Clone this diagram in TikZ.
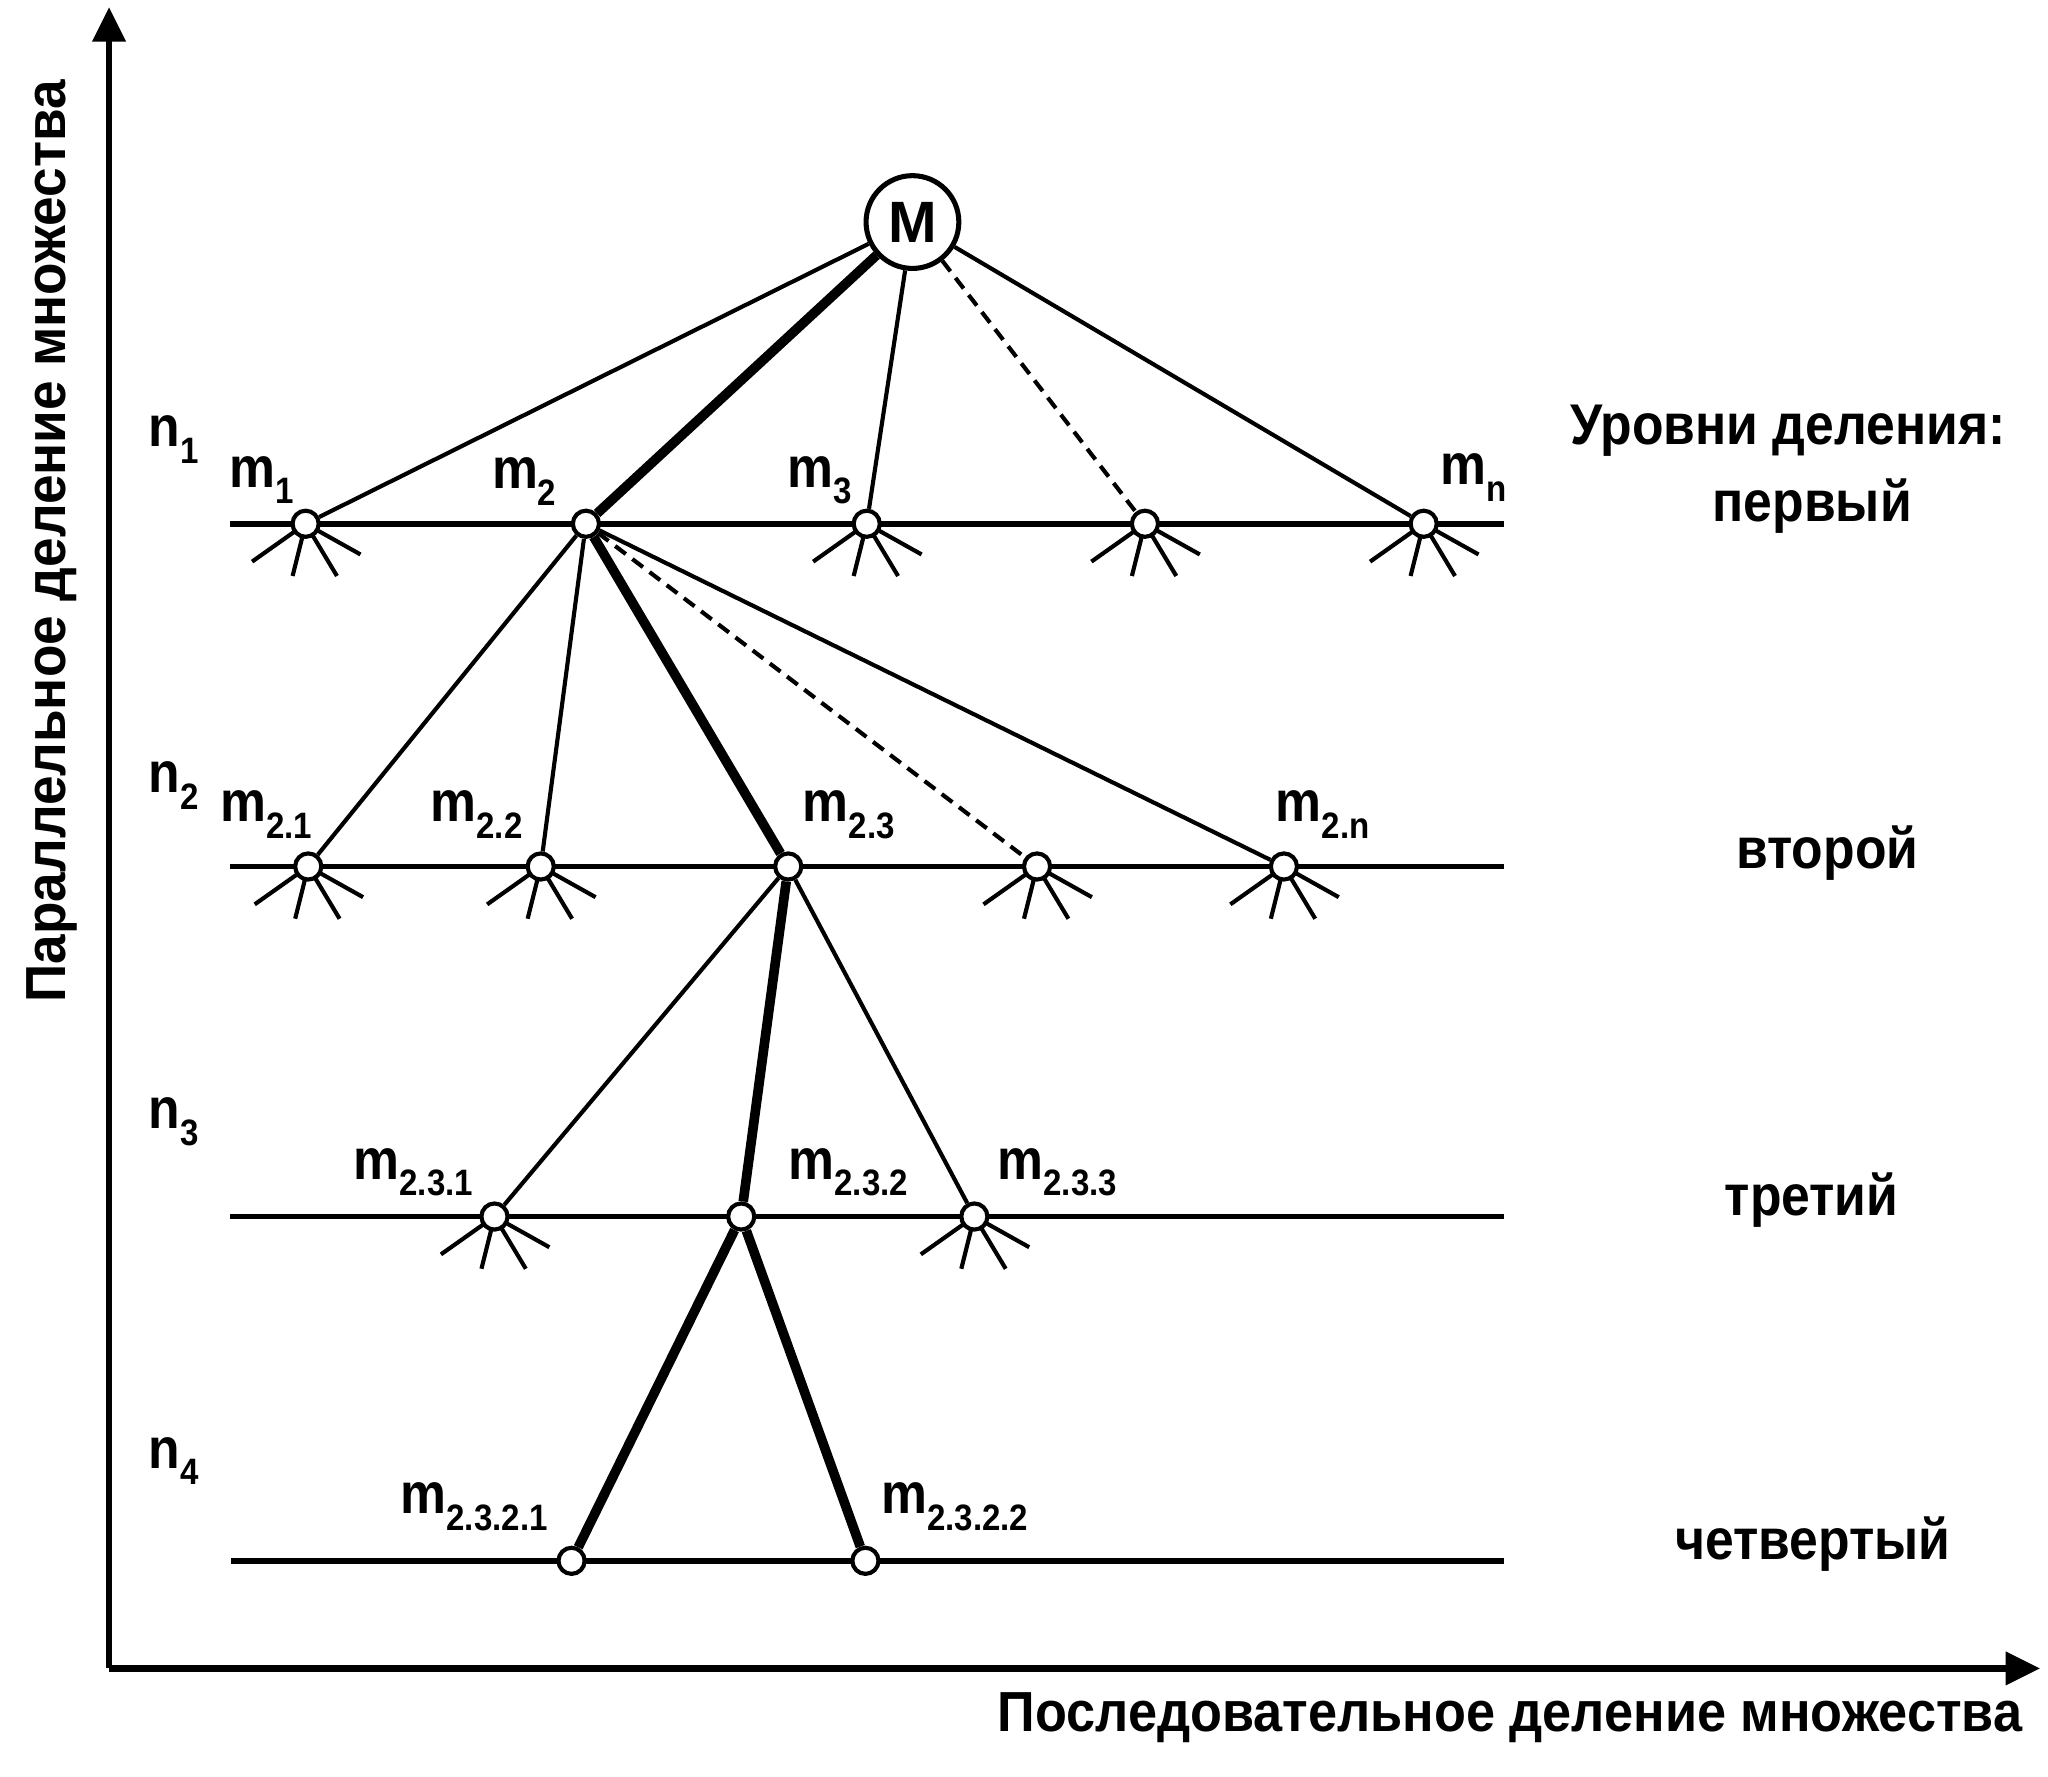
\documentclass[tikz,border=0pt]{standalone}
\usepackage{graphicx}
\usepackage{fontspec}
\setmainfont{Liberation Sans}
\usetikzlibrary{arrows.meta,backgrounds}
\newcommand\mysub[1]{\raisebox{-3.6pt}{\fontsize{8}{9}\selectfont\bfseries\scalebox{0.9}[1]{#1}}}
\newcommand\mylab[2]{\scalebox{0.9}[1]{#1}\mysub{#2}}
\tikzset{
  thinline/.style={line width=0.9pt},
  thickline/.style={line width=2.1pt},
  dashline/.style={line width=0.9pt, dash pattern=on 2.9pt off 1.8pt},
  levelline/.style={line width=1.25pt},
  axisline/.style={line width=1.35pt, -{Triangle[length=7.5pt,width=7pt]}},
  raystyle/.style={line width=0.9pt},
  dotnode/.style={circle, draw, line width=0.9pt, fill=white, minimum size=0.2cm, inner sep=0pt},
  bigc/.style={circle, draw, line width=1.1pt, fill=white, minimum size=0.71cm, inner sep=0pt, font=\fontsize{12.7}{14}\selectfont\bfseries},
  lab/.style={anchor=base west, inner sep=0pt, font=\fontsize{12.5}{14}\selectfont\bfseries},
  lvl/.style={anchor=base, inner sep=0pt, font=\fontsize{12.5}{14}\selectfont\bfseries},
  axlab/.style={anchor=base, inner sep=0pt, font=\fontsize{12.3}{14}\selectfont\bfseries},
}
\newcommand\rays[1]{\foreach \dx/\dy in {-41/29,-10/40,24/40,42/23.5}{\draw[raystyle] (#1.center) -- ++(\dx,\dy);}}
\begin{document}
\begin{tikzpicture}[x=0.01cm,y=-0.01cm]
\useasboundingbox (0,0) rectangle (1568,1360);
% axes
\coordinate (O) at (83.5,1277.4);
\coordinate (Ytip) at (83.5,5.4);
\coordinate (Xtip) at (1562,1277.4);
\draw[axisline] (O) -- (Ytip);
\draw[axisline] (O) -- (Xtip);
% nodes
\node[bigc] (M) at (698.6,170) {M};
\node[dotnode] (a1) at (234,401) {};
\node[dotnode] (a2) at (448.6,401) {};
\node[dotnode] (a3) at (663.6,401) {};
\node[dotnode] (a4) at (876.6,401) {};
\node[dotnode] (a5) at (1090,401) {};
\node[dotnode] (b1) at (236,663.4) {};
\node[dotnode] (b2) at (414,663.4) {};
\node[dotnode] (b3) at (603.5,663.4) {};
\node[dotnode] (b4) at (794,663.4) {};
\node[dotnode] (b5) at (983,663.4) {};
\node[dotnode] (c1) at (378.6,931.4) {};
\node[dotnode] (c2) at (567.5,931.4) {};
\node[dotnode] (c3) at (746,931.4) {};
\node[dotnode] (d1) at (437.6,1195) {};
\node[dotnode] (d2) at (662.6,1195) {};
% level line ends
\coordinate (L1s) at (176,401);   \coordinate (L1e) at (1151.6,401);
\coordinate (L2s) at (176,663.4); \coordinate (L2e) at (1151.6,663.4);
\coordinate (L3s) at (176,931.4); \coordinate (L3e) at (1151.6,931.4);
\coordinate (L4s) at (177,1195);  \coordinate (L4e) at (1151.6,1195);
\begin{pgfonlayer}{background}
\draw[levelline] (L1s) -- (L1e);
\draw[levelline] (L2s) -- (L2e);
\draw[levelline] (L3s) -- (L3e);
\draw[levelline] (L4s) -- (L4e);
\rays{a1}\rays{a3}\rays{a4}\rays{a5}
\rays{b1}\rays{b2}\rays{b4}\rays{b5}
\rays{c1}\rays{c3}
\end{pgfonlayer}
% edges
\draw[thinline] (M) -- (a1);
\draw[thickline] (M) -- (a2);
\draw[thinline] (M) -- (a3);
\draw[dashline] (M) -- (a4);
\draw[thinline] (M) -- (a5);
\draw[thinline] (a2) -- (b1);
\draw[thinline] (a2) -- (b2);
\draw[thickline] (a2) -- (b3);
\draw[dashline] (a2) -- (b4);
\draw[thinline] (a2) -- (b5);
\draw[thinline] (b3) -- (c1);
\draw[thickline] (b3) -- (c2);
\draw[thinline] (b3) -- (c3);
\draw[thickline] (c2) -- (d1);
\draw[thickline] (c2) -- (d2);
% level labels n
\node[lab] (n1) at (113,342) {\mylab{n}{1}};
\node[lab] (n2) at (113,607) {\mylab{n}{2}};
\node[lab] (n3) at (113,864) {\mylab{n}{3}};
\node[lab] (n4) at (113,1124) {\mylab{n}{4}};
% node labels
\node[lab] (lm1) at (175,373) {\mylab{m}{1}};
\node[lab] (lm2) at (376,374) {\mylab{m}{2}};
\node[lab] (lm3) at (602,373) {\mylab{m}{3}};
\node[lab] (lmn) at (1102,371) {\mylab{m}{n}};
\node[lab] (lm21) at (168,629) {\mylab{m}{2.1}};
\node[lab] (lm22) at (329,629) {\mylab{m}{2.2}};
\node[lab] (lm23) at (614,629) {\mylab{m}{2.3}};
\node[lab] (lm2n) at (976,629) {\mylab{m}{2.n}};
\node[lab] (lm231) at (270,903) {\mylab{m}{2.3.1}};
\node[lab] (lm232) at (603,903) {\mylab{m}{2.3.2}};
\node[lab] (lm233) at (763,903) {\mylab{m}{2.3.3}};
\node[lab] (lm2321) at (306,1159) {\mylab{m}{2.3.2.1}};
\node[lab] (lm2322) at (674,1159) {\mylab{m}{2.3.2.2}};
% right labels
\node[lvl] (hdr) at (1369,340) {\scalebox{0.9}[1]{Уровни деления:}};
\node[lvl] (lv1) at (1387.5,399) {\scalebox{0.9}[1]{первый}};
\node[lvl] (lv2) at (1399,665) {\scalebox{0.9}[1]{второй}};
\node[lvl] (lv3) at (1387,930.6) {\scalebox{0.9}[1]{третий}};
\node[lvl] (lv4) at (1388,1194) {\scalebox{0.9}[1]{четвертый}};
% axis labels
\node[axlab] (xl) at (1156,1326) {\scalebox{0.925}[1]{Последовательное деление множества}};
\node[axlab, rotate=90] (yl) at (50,414.5) {\scalebox{0.94}[1]{Параллельное деление множества}};
\end{tikzpicture}
\end{document}
